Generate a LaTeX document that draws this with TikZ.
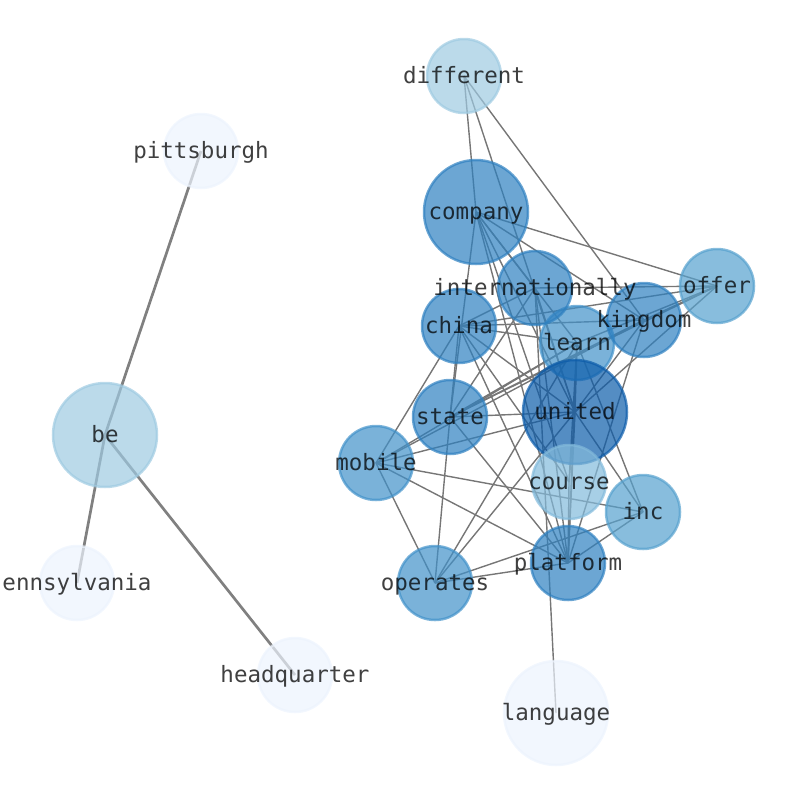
\documentclass[tikz,border=0pt]{standalone}
\usepackage{fontspec}
\setmonofont{DejaVu Sans Mono}
\begin{document}
\begin{tikzpicture}[x=1pt,y=-1pt,
  edge/.style={draw={rgb,255:red,118;green,118;blue,118}, line width=1.4pt},
  bedge/.style={draw={rgb,255:red,128;green,128;blue,128}, line width=2.7pt},
  vx/.style={circle, inner sep=0pt, minimum size=74pt, fill=#1, draw=#1, fill opacity=0.7, draw opacity=0.7, line width=2.5pt},
  bigvx/.style={vx=#1, minimum size=104pt},
  lbl/.style={font=\ttfamily\fontsize{22.5}{22.5}\selectfont, text=black, text opacity=0.75, inner sep=0pt, yshift=-1.5pt}]
\definecolor{cpale}{RGB}{236,243,253}
\definecolor{clight}{RGB}{158,202,225}
\definecolor{ccourse}{RGB}{130,186,219}
\definecolor{cmid}{RGB}{86,161,206}
\definecolor{cmob}{RGB}{65,145,201}
\definecolor{cdark}{RGB}{46,128,192}
\definecolor{cunited}{RGB}{12,92,170}
\useasboundingbox (0,0) rectangle (794,790);
% coordinates of node centres
\coordinate (different) at (464,76);
\coordinate (pittsburgh) at (201,151);
\coordinate (company) at (476,212);
\coordinate (internationally) at (535,288);
\coordinate (offer) at (717,286);
\coordinate (china) at (459,326);
\coordinate (kingdom) at (644,320);
\coordinate (learn) at (577,343);
\coordinate (united) at (575,412);
\coordinate (state) at (450,417);
\coordinate (mobile) at (376,463);
\coordinate (course) at (569,482);
\coordinate (inc) at (643,512);
\coordinate (platform) at (568,563);
\coordinate (operates) at (435,583);
\coordinate (be) at (105,435);
\coordinate (ennsylvania) at (77,583);
\coordinate (headquarter) at (295,675);
\coordinate (language) at (556,713);
% edges
\draw[bedge] (be) -- (pittsburgh);
\draw[bedge] (be) -- (ennsylvania);
\draw[bedge] (be) -- (headquarter);
\foreach \a/\b in {different/company, different/united, different/kingdom,
  company/offer, company/kingdom, company/internationally, company/learn, company/united, company/platform, company/state, company/course,
  internationally/offer, internationally/china, internationally/united, internationally/platform, internationally/language, internationally/state,
  offer/china, offer/kingdom, offer/learn, offer/united, offer/state,
  china/learn, china/kingdom, china/state, china/united, china/platform, china/mobile, china/course,
  kingdom/state, kingdom/united, kingdom/mobile, kingdom/platform,
  learn/state, learn/mobile, learn/united, learn/course, learn/operates, learn/platform, learn/inc,
  united/state, united/mobile, united/operates, united/inc, united/platform, united/course,
  state/platform, state/operates,
  mobile/inc, mobile/platform, mobile/operates,
  course/platform, inc/platform, inc/operates, platform/operates}
  {\draw[edge] (\a) -- (\b);}
% vertices
\node[vx=cpale] (n-pittsburgh) at (pittsburgh) {};
\node[vx=cpale] (n-ennsylvania) at (ennsylvania) {};
\node[vx=cpale] (n-headquarter) at (headquarter) {};
\node[bigvx=cpale] (n-language) at (language) {};
\node[bigvx=clight] (n-be) at (be) {};
\node[vx=clight] (n-different) at (different) {};
\node[bigvx=cdark] (n-company) at (company) {};
\node[vx=cmid] (n-offer) at (offer) {};
\node[vx=cmob] (n-learn) at (learn) {};
\node[vx=cdark] (n-china) at (china) {};
\node[vx=cdark] (n-internationally) at (internationally) {};
\node[vx=cdark] (n-kingdom) at (kingdom) {};
\node[bigvx=cunited] (n-united) at (united) {};
\node[vx=cdark] (n-state) at (state) {};
\node[vx=cmob] (n-mobile) at (mobile) {};
\node[vx=ccourse] (n-course) at (course) {};
\node[vx=cmid] (n-inc) at (inc) {};
\node[vx=cdark] (n-platform) at (platform) {};
\node[vx=cmob] (n-operates) at (operates) {};
% labels
\foreach \n in {different, pittsburgh, company, internationally, offer, china, kingdom, learn, united, state, mobile, course, inc, platform, operates, be, ennsylvania, headquarter, language}
  {\node[lbl] (l-\n) at (\n) {\vphantom{Ag}\n};}
\end{tikzpicture}
\end{document}
